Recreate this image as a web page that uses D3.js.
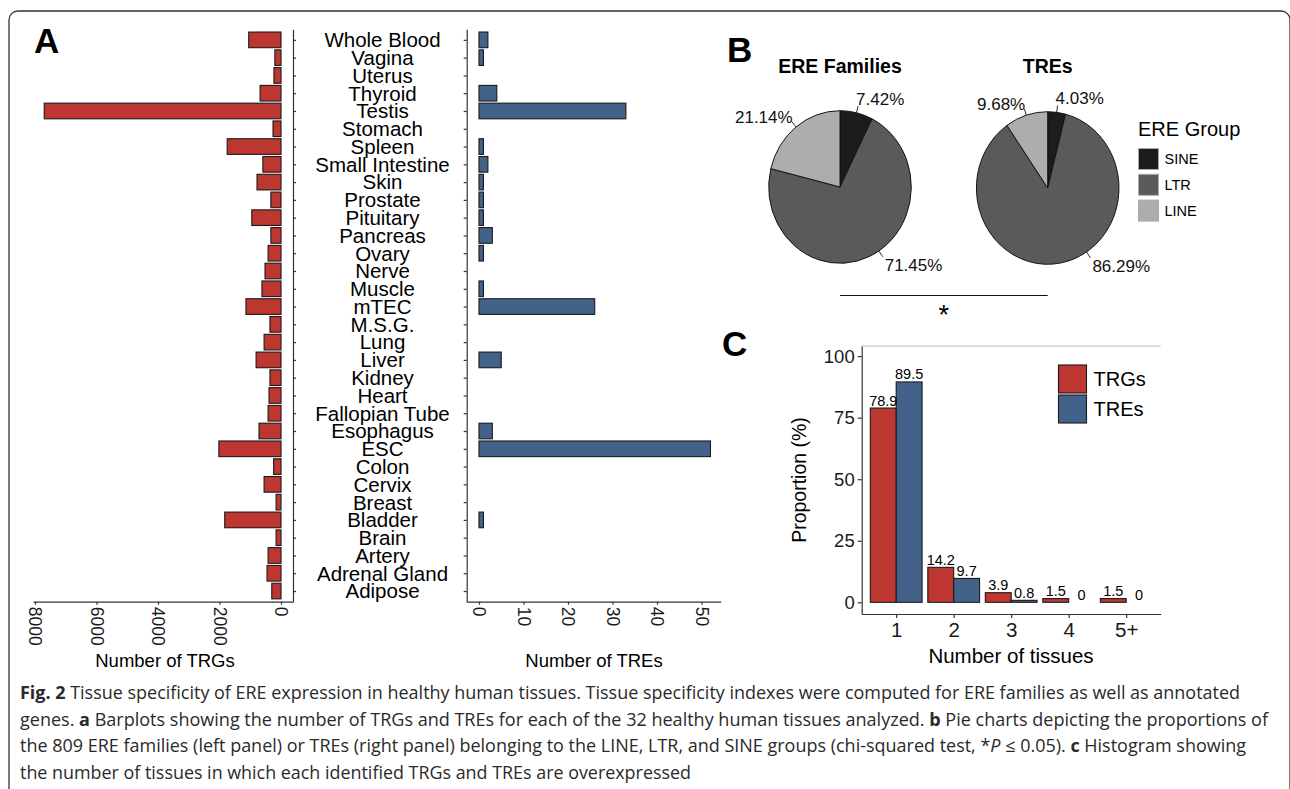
<!DOCTYPE html>
<html>
<head>
<meta charset="utf-8">
<script src="https://cdn.jsdelivr.net/npm/d3@7/dist/d3.min.js"></script>
<style>
  body { margin: 0; background: #fff; }
  svg { display: block; font-family: "Liberation Sans", Arial, Helvetica, sans-serif; }
  .axis path, .axis line { stroke: #333; stroke-width: 1.2; }
  .axis text { fill: #1a1a1a; }
</style>
</head>
<body>
<svg width="1290" height="789"></svg>
<script>
// panel A data
var tissues = ["Whole Blood", "Vagina", "Uterus", "Thyroid", "Testis", "Stomach", "Spleen",
  "Small Intestine", "Skin", "Prostate", "Pituitary", "Pancreas", "Ovary", "Nerve", "Muscle",
  "mTEC", "M.S.G.", "Lung", "Liver", "Kidney", "Heart", "Fallopian Tube", "Esophagus", "ESC",
  "Colon", "Cervix", "Breast", "Bladder", "Brain", "Artery", "Adrenal Gland", "Adipose"];
var trgCounts = [1050, 200, 230, 680, 7700, 260, 1750, 590, 780, 330, 950, 330, 420, 520, 620,
  1140, 360, 550, 810, 360, 390, 420, 715, 2020, 240, 550, 160, 1830, 160, 420, 455, 300];
var treCounts = [2, 1, 0, 4, 33, 0, 1, 2, 1, 1, 1, 3, 1, 0, 1, 26, 0, 0, 5, 0, 0, 0, 3, 52,
  0, 0, 0, 1, 0, 0, 0, 0];
var trgTicks = [0, 2000, 4000, 6000, 8000];
var treTicks = [0, 10, 20, 30, 40, 50];

// panel B data
var ereGroups = ["SINE", "LTR", "LINE"];
var ereFamilyPct = [7.42, 71.45, 21.14];
var trePct = [4.03, 86.29, 9.68];
var pieTitles = ["ERE Families", "TREs"];

// panel C data
var tissueBins = ["1", "2", "3", "4", "5+"];
var trgProp = [78.9, 14.2, 3.9, 1.5, 1.5];
var treProp = [89.5, 9.7, 0.8, 0, 0];
var propTicks = [0, 25, 50, 75, 100];

var red = "#be3630", blue = "#42628a";
var greys = {SINE: "#1c1c1c", LTR: "#5a5a5a", LINE: "#adadad"};

var svg = d3.select("svg");

// outer frame
svg.append("rect")
  .attr("x", 9).attr("y", 11).attr("width", 1281).attr("height", 820)
  .attr("rx", 9).attr("fill", "none").attr("stroke", "#333").attr("stroke-width", 1.3);

function panelLetter(t, x, y) {
  svg.append("text").attr("x", x).attr("y", y).text(t)
    .attr("font-size", 35).attr("font-weight", "bold").attr("fill", "#000");
}
panelLetter("A", 34, 53);
panelLetter("B", 727, 62);
panelLetter("C", 722, 356);

// ---------- A ----------
var y = d3.scalePoint().domain(tissues).range([29.2, 601.7]).padding(0.6);
var barH = y.step() * 0.88;

var xL = d3.scaleLinear().domain([-390, 8065]).range([293, 33]);
var xR = d3.scaleLinear().domain([-2.76, 54.3]).range([466.7, 720.7]);

svg.append("g").selectAll("rect")
  .data(tissues)
  .enter()
  .append("rect")
  .attr("x", function(d, i) { return xL(trgCounts[i]); })
  .attr("y", function(d) { return y(d) - barH / 2; })
  .attr("width", function(d, i) { return xL(0) - xL(trgCounts[i]); })
  .attr("height", barH)
  .attr("fill", red).attr("stroke", "#1a1a1a").attr("stroke-width", 1.1);

svg.append("g").selectAll("rect")
  .data(tissues.filter(function(d, i) { return treCounts[i] > 0; }))
  .enter()
  .append("rect")
  .attr("x", xR(0))
  .attr("y", function(d) { return y(d) - barH / 2; })
  .attr("width", function(d) { return xR(treCounts[tissues.indexOf(d)]) - xR(0); })
  .attr("height", barH)
  .attr("fill", blue).attr("stroke", "#1a1a1a").attr("stroke-width", 1.1);

// vertical axes
svg.append("g").attr("class", "axis")
  .attr("transform", "translate(293,0)")
  .call(d3.axisRight(y).tickSize(3).tickSizeOuter(0).tickFormat(""));
svg.append("g").attr("class", "axis")
  .attr("transform", "translate(466.7,0)")
  .call(d3.axisLeft(y).tickSize(3).tickSizeOuter(0).tickFormat(""));

// tissue labels
svg.append("g").selectAll("text")
  .data(tissues)
  .enter()
  .append("text")
  .attr("x", 382.5)
  .attr("y", function(d) { return y(d); })
  .attr("dy", "0.36em")
  .attr("text-anchor", "middle")
  .attr("font-size", 20.5)
  .attr("fill", "#000")
  .text(function(d) { return d; });

function rotatedBottom(scale, ticks) {
  var g = svg.append("g").attr("class", "axis")
    .attr("transform", "translate(0,601.7)")
    .call(d3.axisBottom(scale).tickValues(ticks).tickFormat(d3.format("d"))
      .tickSize(3).tickSizeOuter(0));
  g.selectAll("text")
    .attr("transform", "rotate(90)")
    .attr("x", 5).attr("y", 0).attr("dy", "0.36em")
    .attr("text-anchor", "start")
    .attr("font-size", 17.5);
  return g;
}
rotatedBottom(xL, trgTicks);
rotatedBottom(xR, treTicks);

svg.append("text").attr("x", 165).attr("y", 667).attr("text-anchor", "middle")
  .attr("font-size", 18.5).text("Number of TRGs");
svg.append("text").attr("x", 594).attr("y", 667).attr("text-anchor", "middle")
  .attr("font-size", 18.5).text("Number of TREs");

// ---------- B ----------
var pieCenters = [[840, 187], [1047.7, 188]];
var rx = 71.3, ry = 76.3;
var pie = d3.pie().sort(null).value(function(d) { return d; });
var arc = d3.arc().innerRadius(0).outerRadius(ry);

[ereFamilyPct, trePct].forEach(function(vals, k) {
  var c = pieCenters[k];
  var arcs = pie(vals);
  svg.append("g")
    .attr("transform", "translate(" + c[0] + "," + c[1] + ") scale(" + (rx / ry) + ",1)")
    .selectAll("path")
    .data(arcs)
    .enter()
    .append("path")
    .attr("d", arc)
    .attr("fill", function(d, i) { return greys[ereGroups[i]]; })
    .attr("stroke", "#111").attr("stroke-width", 1);

  svg.append("text").attr("x", c[0]).attr("y", 73).attr("text-anchor", "middle")
    .attr("font-size", 19.5).attr("font-weight", "bold").text(pieTitles[k]);

  arcs.forEach(function(a, i) {
    var ang = (a.startAngle + a.endAngle) / 2;
    if (Math.cos(ang) < 0) ang = 147 * Math.PI / 180; // lower labels sit at the same spot
    var s = Math.sin(ang), co = Math.cos(ang);
    var x0 = c[0] + rx * s, y0 = c[1] - ry * co;
    var x1 = c[0] + rx * 1.1 * s, y1 = c[1] - ry * 1.09 * co;
    svg.append("line").attr("x1", x0).attr("y1", y0).attr("x2", x1).attr("y2", y1)
      .attr("stroke", "#111").attr("stroke-width", 0.9);
    var t = svg.append("text").attr("font-size", 17).attr("fill", "#111")
      .text(vals[i].toFixed(2) + "%");
    if (co < 0) {
      t.attr("x", x1 + 2).attr("y", y1 + 14).attr("text-anchor", "start");
    } else if (s >= 0) {
      t.attr("x", x1 - 2).attr("y", y1 - 1).attr("text-anchor", "start");
    } else {
      t.attr("x", x1 + 1).attr("y", y1 + 1).attr("text-anchor", "end");
    }
  });
});

// significance bar
svg.append("line").attr("x1", pieCenters[0][0]).attr("x2", pieCenters[1][0])
  .attr("y1", 295.5).attr("y2", 295.5).attr("stroke", "#111").attr("stroke-width", 1.1);
svg.append("text").attr("x", (pieCenters[0][0] + pieCenters[1][0]) / 2).attr("y", 324)
  .attr("text-anchor", "middle").attr("font-size", 27).text("*");

// legend
svg.append("text").attr("x", 1138).attr("y", 136).attr("font-size", 20).text("ERE Group");
var lg = svg.append("g").selectAll("g")
  .data(ereGroups)
  .enter()
  .append("g")
  .attr("transform", function(d, i) { return "translate(1138.5," + (148.5 + i * 25.8) + ")"; });
lg.append("rect").attr("width", 20).attr("height", 21)
  .attr("fill", function(d) { return greys[d]; })
  .attr("stroke", "#aaa").attr("stroke-width", 1);
lg.append("text").attr("x", 26).attr("y", 10.5).attr("dy", "0.36em")
  .attr("font-size", 14.5).text(function(d) { return d; });

// ---------- C ----------
var xc = d3.scalePoint().domain(tissueBins).range([861.7, 1160.7]).padding(0.6);
var groupW = xc.step() * 0.9;
var sub = d3.scaleBand().domain(["TRGs", "TREs"]).range([-groupW / 2, groupW / 2]);
var yc = d3.scaleLinear().domain([-4.75, 104.1]).range([614, 346]);

svg.append("line").attr("x1", 861.7).attr("x2", 1160.7).attr("y1", 346).attr("y2", 346)
  .attr("stroke", "#bbb").attr("stroke-width", 1);

var rows = [];
tissueBins.forEach(function(b, i) {
  rows.push({bin: b, key: "TRGs", v: trgProp[i], color: red});
  rows.push({bin: b, key: "TREs", v: treProp[i], color: blue});
});

svg.append("g").selectAll("rect")
  .data(rows.filter(function(d) { return d.v > 0; }))
  .enter()
  .append("rect")
  .attr("x", function(d) { return xc(d.bin) + sub(d.key); })
  .attr("y", function(d) { return yc(d.v); })
  .attr("width", sub.bandwidth())
  .attr("height", function(d) { return yc(0) - yc(d.v); })
  .attr("fill", function(d) { return d.color; })
  .attr("stroke", "#1a1a1a").attr("stroke-width", 1.1);

svg.append("g").selectAll("text")
  .data(rows)
  .enter()
  .append("text")
  .attr("x", function(d) { return xc(d.bin) + sub(d.key) + sub.bandwidth() / 2; })
  .attr("y", function(d) { return yc(d.v) - 2.5; })
  .attr("text-anchor", "middle")
  .attr("font-size", 14.5)
  .text(function(d) { return d.v; });

var yAx = svg.append("g").attr("class", "axis")
  .attr("transform", "translate(861.7,0)")
  .call(d3.axisLeft(yc).tickValues(propTicks).tickSize(4).tickSizeOuter(0).tickPadding(3));
yAx.selectAll("text").attr("font-size", 18.5);

var xAx = svg.append("g").attr("class", "axis")
  .attr("transform", "translate(0,614)")
  .call(d3.axisBottom(xc).tickSize(4).tickSizeOuter(0).tickPadding(4));
xAx.selectAll("text").attr("font-size", 20.5);

svg.append("text").attr("x", 1011).attr("y", 663).attr("text-anchor", "middle")
  .attr("font-size", 20.5).text("Number of tissues");
svg.append("text").attr("transform", "translate(806,480) rotate(-90)")
  .attr("text-anchor", "middle").attr("font-size", 19.5).text("Proportion (%)");

var cl = svg.append("g").selectAll("g")
  .data(["TRGs", "TREs"])
  .enter()
  .append("g")
  .attr("transform", function(d, i) { return "translate(1058.5," + (365 + i * 30) + ")"; });
cl.append("rect").attr("width", 28).attr("height", 28)
  .attr("fill", function(d, i) { return i ? blue : red; })
  .attr("stroke", "#1a1a1a").attr("stroke-width", 1.1);
cl.append("text").attr("x", 35).attr("y", 14).attr("dy", "0.36em")
  .attr("font-size", 20).text(function(d) { return d; });

// ---------- caption ----------
var capLines = [
  [["b", "Fig. 2"], ["", " Tissue specificity of ERE expression in healthy human tissues. Tissue specificity indexes were computed for ERE families as well as annotated"]],
  [["", "genes. "], ["b", "a"], ["", " Barplots showing the number of TRGs and TREs for each of the 32 healthy human tissues analyzed. "], ["b", "b"], ["", " Pie charts depicting the proportions of"]],
  [["", "the 809 ERE families (left panel) or TREs (right panel) belonging to the LINE, LTR, and SINE groups (chi-squared test, *"], ["i", "P"], ["", " \u2264 0.05). "], ["b", "c"], ["", " Histogram showing"]],
  [["", "the number of tissues in which each identified TRGs and TREs are overexpressed"]]
];
var capWidths = [1220, 1248, 1226, 671];
capLines.forEach(function(parts, i) {
  var t = svg.append("text")
    .attr("x", 20).attr("y", 699 + i * 26.5)
    .attr("font-family", "'Open Sans', 'Noto Sans', sans-serif")
    .attr("font-size", 17.5).attr("fill", "#2a2a2a")
    .attr("textLength", capWidths[i]).attr("lengthAdjust", "spacingAndGlyphs");
  parts.forEach(function(p) {
    var ts = t.append("tspan").text(p[1]);
    if (p[0] === "b") ts.attr("font-weight", "bold");
    if (p[0] === "i") ts.attr("font-style", "italic");
  });
});
</script>
</body>
</html>
